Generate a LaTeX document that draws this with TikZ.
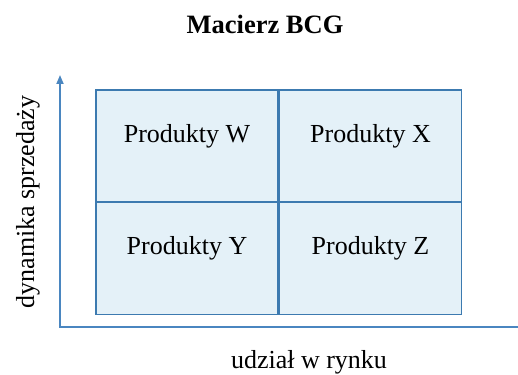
\documentclass[tikz,border=0pt]{standalone}
\usepackage{fontspec}
\setmainfont{Liberation Serif}
\usetikzlibrary{arrows.meta}
\definecolor{gridblue}{HTML}{3C7AB0}
\definecolor{cellfill}{HTML}{E4F1F8}
\definecolor{axisblue}{HTML}{4A86C0}
\begin{document}
\begin{tikzpicture}[x=1pt,y=1pt,
  cell/.style={draw=gridblue,fill=cellfill,line width=1.5pt,minimum width=182pt,minimum height=112.5pt,inner sep=0pt,anchor=center},
  lbl/.style={font=\fontsize{26}{30}\selectfont,inner sep=0pt},
  axis/.style={draw=axisblue,line width=1.8pt}]
\useasboundingbox (0,0) rectangle (518,374);
\node[font=\bfseries\fontsize{26.5}{30}\selectfont,inner sep=0pt] (title) at (265,350) {Macierz BCG};
\node[cell] (w) at (187,227.5) {};
\node[cell] (x) at (370.5,227.5) {};
\node[cell] (y) at (187,115.5) {};
\node[cell] (z) at (370.5,115.5) {};
\node[lbl] (lw) at ([yshift=10pt]w.center) {Produkty W};
\node[lbl] (lx) at ([yshift=10pt]x.center) {Produkty X};
\node[lbl] (ly) at ([yshift=10pt]y.center) {Produkty Y};
\node[lbl] (lz) at ([yshift=10pt]z.center) {Produkty Z};
\coordinate (o) at (60,47);
\coordinate (ytip) at (60,299);
\coordinate (xend) at (518,47);
\draw[axis,-{Triangle[width=7pt,length=9pt]}] (o) -- (ytip);
\draw[axis] ([xshift=-0.9pt]o) -- (xend);
\node[lbl,rotate=90] (ylab) at (28,172) {dynamika sprzedaży};
\node[lbl] (xlab) at (309,12) {udział w rynku};
\end{tikzpicture}
\end{document}
